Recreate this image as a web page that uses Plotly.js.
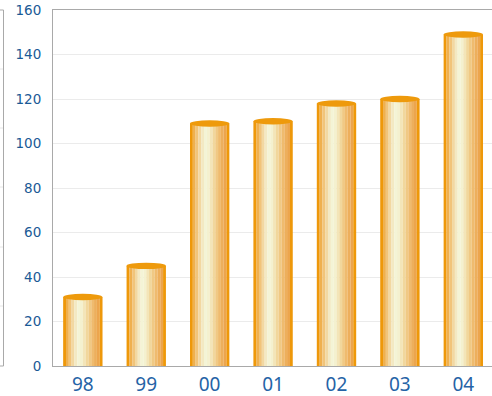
<!DOCTYPE html>
<html>
<head>
<meta charset="utf-8">
<script src="https://cdn.plot.ly/plotly-3.0.1.min.js"></script>
<style>
  html, body { margin: 0; padding: 0; overflow: hidden; background: #ffffff; }
  #chart { width: 497px; height: 396px; }
</style>
</head>
<body>
<div id="chart"></div>
<script>
// Yearly values, one cylinder per year
const years = ['98', '99', '00', '01', '02', '03', '04'];
const values = [31, 45, 109, 110, 118, 120, 149];

// Vertical shading bands across each cylinder, left to right
const bandColors = [
  '#EE980A', '#EFB04F', '#F1C47A', '#F2D8A2', '#F3E9C3', '#F4F4D6', '#F4F1CF',
  '#F3E5B8', '#F1D79C', '#F0C984', '#EFBB6E', '#EDAF5C', '#ECA54E', '#EE980A'
];

const BAR_W = 0.62;
const bandW = BAR_W / bandColors.length;

const traces = bandColors.map((color, k) => ({
  type: 'bar',
  x: years,
  y: values,
  width: bandW * 1.02,
  offset: -BAR_W / 2 + k * bandW,
  marker: { color: color, line: { width: 0 } },
  hoverinfo: 'skip',
  showlegend: false
}));

// Elliptical caps on top of each cylinder
const caps = years.map((c, i) => ({
  type: 'circle',
  xref: 'x', yref: 'y',
  x0: i - BAR_W / 2, x1: i + BAR_W / 2,
  ysizemode: 'pixel', yanchor: values[i],
  y0: -3.2, y1: 3.2,
  fillcolor: '#EE9A0C',
  line: { width: 0 },
  layer: 'above'
}));

// Edge of the neighbouring panel on the far left
const PLOT_L = 53, PLOT_W = 442, PLOT_T = 10, PLOT_H = 356;
const px = p => (p - PLOT_L) / PLOT_W;
const py = p => (PLOT_T + PLOT_H - p) / PLOT_H;
const sideStubs = [69, 128, 187, 247, 306].map(p => ({
  type: 'line', xref: 'paper', yref: 'paper',
  x0: px(-5), x1: px(3), y0: py(p), y1: py(p),
  line: { color: '#e6e6e6', width: 1 }
}));
const sideFrame = [
  { type: 'line', xref: 'paper', yref: 'paper', x0: px(3.5), x1: px(3.5), y0: 0, y1: 1,
    line: { color: '#a9a9a9', width: 1 } },
  { type: 'line', xref: 'paper', yref: 'paper', x0: px(-5), x1: px(3.5), y0: 1, y1: 1,
    line: { color: '#a9a9a9', width: 1 } },
  { type: 'line', xref: 'paper', yref: 'paper', x0: px(-5), x1: px(3.5), y0: 0, y1: 0,
    line: { color: '#a9a9a9', width: 1 } }
];

const layout = {
  width: 497,
  height: 396,
  margin: { l: PLOT_L, r: 2, t: PLOT_T, b: 30 },
  paper_bgcolor: '#ffffff',
  plot_bgcolor: '#ffffff',
  barmode: 'overlay',
  showlegend: false,
  xaxis: {
    type: 'category',
    range: [-0.47, 6.5],
    showline: true, mirror: true, linecolor: '#a9a9a9', linewidth: 1,
    showgrid: false, zeroline: false,
    ticks: '',
    ticklabelstandoff: 1,
    tickfont: { family: 'Noto Sans, sans-serif', size: 19, color: '#2563a6' }
  },
  yaxis: {
    range: [0, 160],
    dtick: 20,
    showline: true, mirror: true, linecolor: '#a9a9a9', linewidth: 1,
    showgrid: true, gridcolor: '#ebebeb', gridwidth: 1,
    zeroline: false,
    ticks: '',
    ticklabelstandoff: 8,
    tickfont: { family: 'DejaVu Sans, sans-serif', size: 13.5, color: '#1a5a96' }
  },
  shapes: caps.concat(sideStubs, sideFrame)
};

Plotly.newPlot('chart', traces, layout, { staticPlot: true, displayModeBar: false });
</script>
</body>
</html>
